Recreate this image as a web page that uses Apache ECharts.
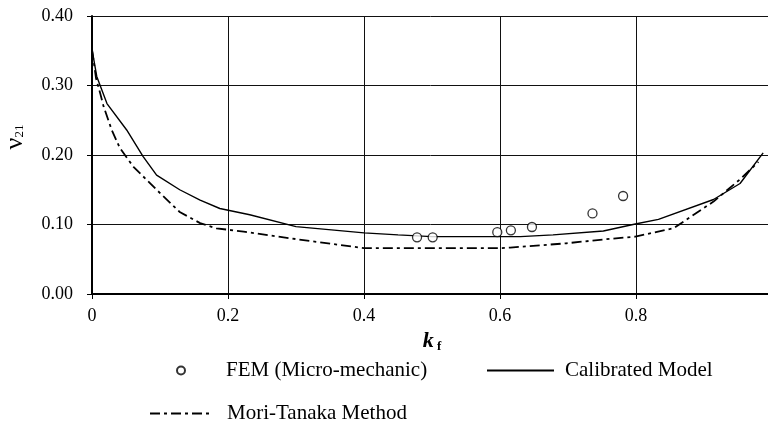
<!DOCTYPE html>
<html>
<head>
<meta charset="utf-8">
<script src="https://cdn.jsdelivr.net/npm/echarts@6/dist/echarts.min.js"></script>
<style>
  html, body { margin: 0; padding: 0; background: #fff; }
  #chartArea { width: 768px; height: 427px; }
</style>
</head>
<body>
<div id="chartArea"></div>
<script>
// values
var kfCalibrated = [0, 0.007, 0.022, 0.051, 0.075, 0.095, 0.129, 0.159, 0.188, 0.232, 0.3, 0.4, 0.45, 0.5, 0.63, 0.678, 0.752, 0.799, 0.833, 0.914, 0.953, 0.987];
var nuCalibrated = [0.352, 0.313, 0.274, 0.236, 0.198, 0.171, 0.150, 0.135, 0.123, 0.114, 0.097, 0.088, 0.085, 0.0825, 0.0825, 0.085, 0.0906, 0.1007, 0.1074, 0.136, 0.159, 0.203];

var kfMoriTanaka = [0, 0.006, 0.012, 0.017, 0.029, 0.041, 0.061, 0.095, 0.129, 0.159, 0.183, 0.223, 0.3, 0.4, 0.6, 0.615, 0.698, 0.747, 0.799, 0.855, 0.914, 0.953, 0.98];
var nuMoriTanaka = [0.352, 0.31, 0.289, 0.270, 0.236, 0.210, 0.183, 0.150, 0.118, 0.102, 0.0945, 0.0897, 0.079, 0.066, 0.066, 0.0667, 0.073, 0.078, 0.0825, 0.0945, 0.133, 0.165, 0.19];

var kfFem = [0.478, 0.501, 0.596, 0.616, 0.647, 0.736, 0.781];
var nuFem = [0.0815, 0.0815, 0.089, 0.0916, 0.0964, 0.116, 0.141];

var seriesNames = ['FEM (Micro-mechanic)', 'Calibrated Model', 'Mori-Tanaka Method'];

function pairs(xs, ys) {
    return xs.map(function(x, i) { return [x, ys[i]]; });
}

var serif = '"Liberation Serif", "DejaVu Serif", serif';
var axisLabel = {
    color: '#000',
    fontFamily: serif,
    fontSize: 18
};
var legendText = {
    color: '#000',
    fontFamily: serif,
    fontSize: 21
};

var myChart = echarts.init(document.getElementById('chartArea'), null, { renderer: 'canvas' });

myChart.setOption({
    animation: false,
    backgroundColor: '#fff',
    grid: { left: 92, top: 16, width: 680, height: 278, outerBoundsMode: 'none', containLabel: false },
    xAxis: {
        type: 'value',
        min: 0,
        max: 1,
        interval: 0.2,
        name: '{k|k}{f| f}',
        nameLocation: 'middle',
        nameGap: 36,
        nameTextStyle: {
            rich: {
                k: { fontFamily: serif, fontSize: 22, fontWeight: 'bold', fontStyle: 'italic', color: '#000' },
                f: { fontFamily: serif, fontSize: 13, fontWeight: 'bold', color: '#000', padding: [10, 0, 0, 0] }
            }
        },
        axisLine: { onZero: false, lineStyle: { color: '#000', width: 2 } },
        axisTick: { show: true, inside: false, length: 5, lineStyle: { color: '#000' } },
        axisLabel: Object.assign({ margin: 13 }, axisLabel),
        splitLine: { show: true, lineStyle: { color: '#111', width: 1 } }
    },
    yAxis: {
        type: 'value',
        min: 0,
        max: 0.4,
        interval: 0.1,
        name: '{n|\u03bd}{s|21}',
        nameLocation: 'middle',
        nameGap: 64,
        nameRotate: 90,
        nameTextStyle: {
            padding: [0, 0, 0, 36],
            rich: {
                n: { fontFamily: serif, fontSize: 26, color: '#000' },
                s: { fontFamily: serif, fontSize: 13, color: '#000', padding: [10, 0, 0, 0] }
            }
        },
        axisLine: { onZero: false, lineStyle: { color: '#000', width: 2 } },
        axisTick: { show: true, inside: false, length: 5, lineStyle: { color: '#000' } },
        axisLabel: Object.assign({
            margin: 19,
            formatter: function(v) { return v.toFixed(2); }
        }, axisLabel),
        splitLine: { show: true, lineStyle: { color: '#111', width: 1 } }
    },
    legend: [
        {
            data: [{ name: seriesNames[0], icon: 'circle' }],
            left: 171,
            top: 355,
            itemWidth: 60,
            itemHeight: 8,
            textStyle: Object.assign({ padding: [0, 0, 0, 10] }, legendText)
        },
        {
            data: [seriesNames[1]],
            left: 481,
            top: 355,
            itemWidth: 67,
            itemHeight: 14,
            itemStyle: { opacity: 0 },
            textStyle: Object.assign({ padding: [0, 0, 0, 6] }, legendText)
        },
        {
            data: [seriesNames[2]],
            left: 144,
            top: 398,
            itemWidth: 60,
            itemHeight: 14,
            itemStyle: { opacity: 0 },
            textStyle: Object.assign({ padding: [0, 0, 0, 12] }, legendText)
        }
    ],
    series: [
        {
            name: seriesNames[0],
            type: 'scatter',
            data: pairs(kfFem, nuFem),
            symbol: 'circle',
            symbolSize: 9,
            itemStyle: { color: '#fff', borderColor: '#000', borderWidth: 1.3 },
            z: 5
        },
        {
            name: seriesNames[1],
            type: 'line',
            data: pairs(kfCalibrated, nuCalibrated),
            symbol: 'none',
            showSymbol: false,
            lineStyle: { color: '#000', width: 1.4, type: 'solid' },
            itemStyle: { color: '#000' }
        },
        {
            name: seriesNames[2],
            type: 'line',
            data: pairs(kfMoriTanaka, nuMoriTanaka),
            symbol: 'none',
            showSymbol: false,
            lineStyle: { color: '#000', width: 1.8, type: [10, 4, 3, 4] },
            itemStyle: { color: '#000' }
        }
    ]
});
</script>
</body>
</html>
